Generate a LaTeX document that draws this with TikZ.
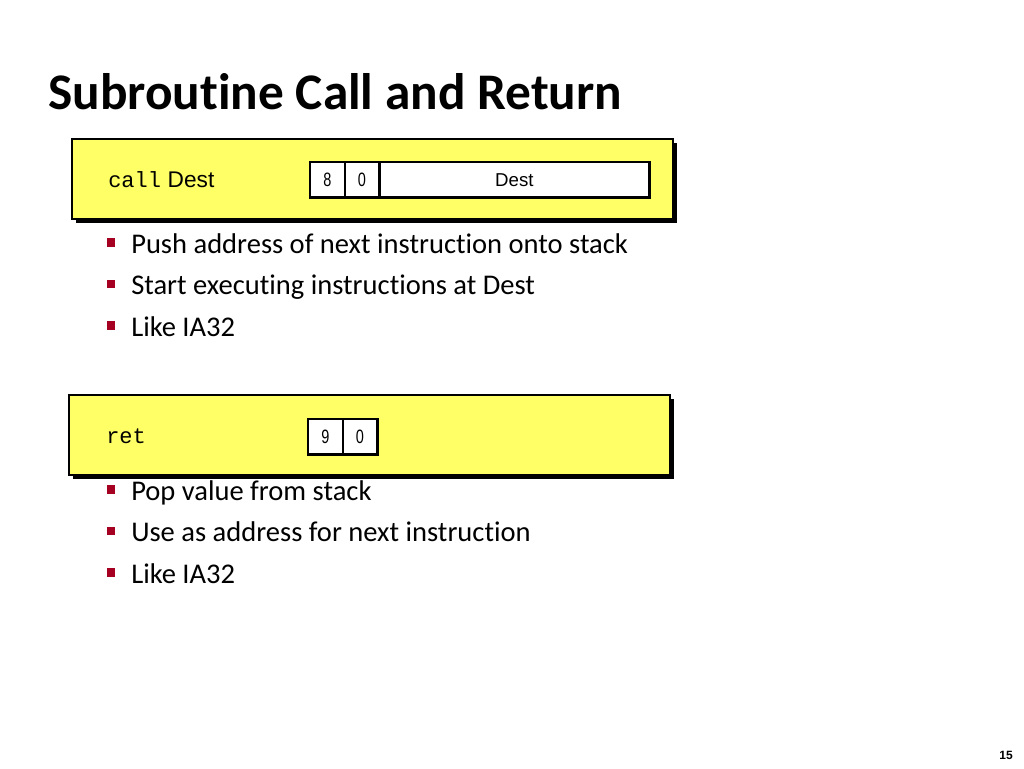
\documentclass[tikz,border=0pt]{standalone}
\usepackage{fontspec}
\setmainfont{Carlito}[Ligatures={NoCommon}]
\newfontfamily\codefont{Liberation Mono}
\newfontfamily\arialfont{Liberation Sans}
\newfontfamily\narrowfont[FakeStretch=0.75]{Liberation Sans}
\usetikzlibrary{positioning, shadows, calc}
\definecolor{boxyellow}{HTML}{FFFF66}
\definecolor{bulletred}{HTML}{A50021}

\begin{document}
\begin{tikzpicture}[
    x=0.75pt, y=-0.75pt,
    instrbox/.style={rectangle, draw=black, line width=1.6pt, fill=boxyellow,
        minimum width=451pt, minimum height=60pt, anchor=north west,
        drop shadow={shadow xshift=3pt, shadow yshift=-3pt, fill=black, opacity=1}},
    cell/.style={rectangle, draw=black, line width=0.5pt, fill=white,
        minimum width=25.5pt, minimum height=26pt, inner sep=0pt, font=\narrowfont\fontsize{14.5}{14.5}\selectfont},
    bullet/.style={rectangle, fill=bulletred, minimum size=6.2pt, inner sep=0pt},
    item/.style={anchor=base west, inner sep=0pt, font=\fontsize{21.4}{21.4}\selectfont},
]
\useasboundingbox (0,0) rectangle (1024,768);

% Title
\node[anchor=base west, inner sep=0pt, font=\bfseries\fontsize{38.5}{38.5}\selectfont] (title) at (48,109) {Subroutine Call and Return};

% call instruction
\node[instrbox] (callbox) at (71,138) {};
\node[anchor=base west, inner sep=0pt, font=\fontsize{16.5}{16.5}\selectfont] (calltext) at (108,187) {{\codefont call}\kern5pt\arialfont\fontsize{17}{17}\selectfont Dest};
\node[cell, anchor=north west] (callop) at (310,162) {8};
\node[cell, right=0pt of callop] (callfn) {0};
\node[cell, right=0pt of callfn, minimum width=202pt, font=\arialfont\fontsize{14}{14}\selectfont] (calldest) {Dest};
\draw[line width=2pt] (callop.north west) rectangle (calldest.south east);
\draw[line width=2pt] (callfn.north east) -- (callfn.south east);

% call bullets
\node[item] (c1) at (131,253) {Push address of next instruction onto stack};
\node[item] (c2) at (131,294.5) {Start executing instructions at Dest};
\node[item] (c3) at (131,336) {Like IA32};
\foreach \i in {1,2,3}
  \node[bullet] at ($(c\i.base west)+(-20,-10.5)$) {};

% ret instruction
\node[instrbox] (retbox) at (68,394) {};
\node[anchor=base west, inner sep=0pt, font=\codefont\fontsize{16.5}{16.5}\selectfont] (rettext) at (106,443) {ret};
\node[cell, anchor=north west] (retop) at (308,419) {9};
\node[cell, right=0pt of retop] (retfn) {0};
\draw[line width=2pt] (retop.north west) rectangle (retfn.south east);

% ret bullets
\node[item] (r1) at (131,500) {Pop value from stack};
\node[item] (r2) at (131,541.5) {Use as address for next instruction};
\node[item] (r3) at (131,583) {Like IA32};
\foreach \i in {1,2,3}
  \node[bullet] at ($(r\i.base west)+(-20,-10.5)$) {};

% page number
\node[anchor=base east, inner sep=0pt, font=\arialfont\bfseries\fontsize{9}{9}\selectfont] (pagenum) at (1013,759) {15};
\end{tikzpicture}
\end{document}
